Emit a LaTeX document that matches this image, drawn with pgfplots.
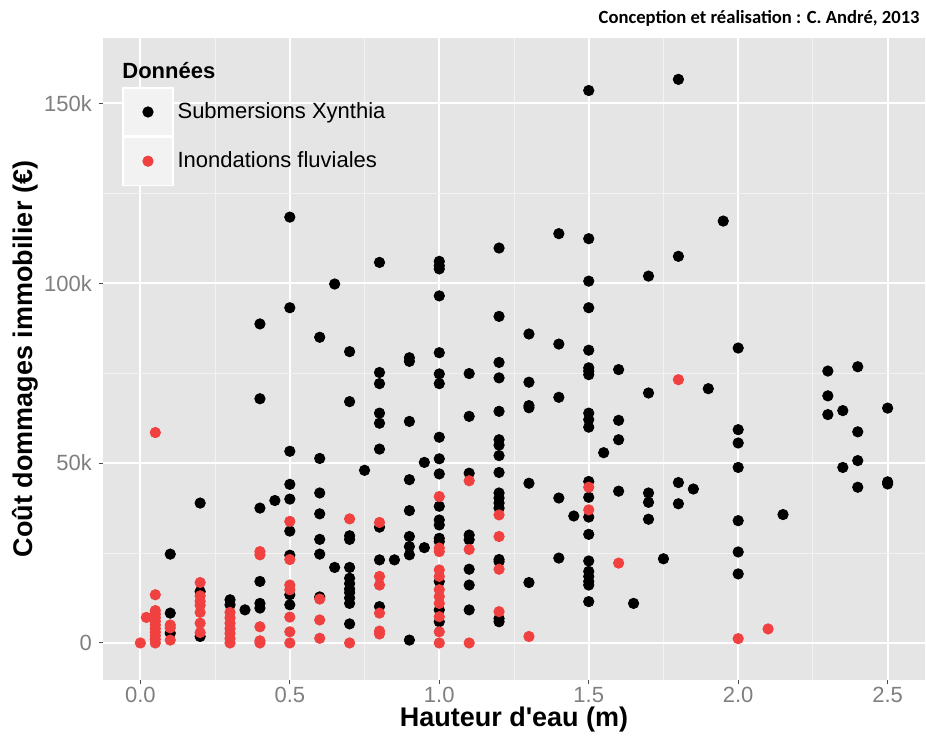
\documentclass[border=0pt]{standalone}
\usepackage{fontspec}
\setmainfont{Liberation Sans}
\newfontfamily\creditfont{Carlito}
\usepackage{pgfplots}
\pgfplotsset{compat=1.18}
\definecolor{panel}{HTML}{E5E5E5}
\definecolor{minorgrid}{HTML}{F2F2F2}
\definecolor{ticklab}{HTML}{7F7F7F}
\definecolor{keyfill}{HTML}{F2F2F2}
\definecolor{inond}{HTML}{F04040}

\begin{document}
\begin{tikzpicture}
\useasboundingbox (0,0) rectangle (463pt,367.5pt);
\begin{axis}[
  at={(51.5pt,27.5pt)}, anchor=south west,
  width=411pt, height=321pt, scale only axis,
  xmin=-0.125, xmax=2.625, ymin=-10.3, ymax=168.2,
  axis background/.style={fill=panel},
  axis line style={draw=none},
  tick pos=left, tick align=outside,
  major tick length=2pt, minor tick length=0pt,
  tick style={draw=black!70, line width=0.5pt},
  xtick={0,0.5,1,1.5,2,2.5},
  xticklabels={0.0,0.5,1.0,1.5,2.0,2.5},
  minor xtick={0.25,0.75,1.25,1.75,2.25},
  ytick={0,50,100,150},
  yticklabels={0,50k,100k,150k},
  minor ytick={25,75,125},
  grid=both,
  major grid style={white, line width=1pt},
  minor grid style={minorgrid, line width=0.5pt},
  ticklabel style={font=\fontsize{11}{13}\selectfont, text=ticklab},
  xticklabel style={inner sep=1.5pt},
  /pgf/number format/assume math mode=true,
  xlabel={Hauteur d\textquotesingle eau (m)},
  ylabel={Coût dommages immobilier (€)},
  every axis x label/.style={at={(axis description cs:0.5,-0.0623)}, anchor=center,
    font=\bfseries\fontsize{13.5}{16}\selectfont},
  every axis y label/.style={at={(axis description cs:-0.0949,0.5)}, anchor=center, rotate=90,
    font=\bfseries\fontsize{13.5}{16}\selectfont},
  legend cell align=left,
  legend style={at={(axis description cs:0.0231,0.9237)}, anchor=north west,
    draw=none, fill=none, inner sep=0pt, row sep=0pt,
    font=\fontsize{11}{13}\selectfont,
    /tikz/every odd column/.append style={column sep=0pt}},
  legend image code/.code={
    \draw[white, fill=keyfill, line width=0.6pt] (0pt,-12pt) rectangle (25pt,12pt);
    \draw[#1] plot coordinates {(12.5pt,0pt)};
  },
]
% Submersions Xynthia (cout en milliers d'euros)
\addplot[only marks, mark=*, mark size=2.6pt, black] coordinates {
(0.1,24.7) (0.1,8.3) (0.1,2.7)
(0.2,38.9) (0.2,14.3) (0.2,1.8)
(0.3,12.0) (0.3,10.6)
(0.35,9.2)
(0.4,88.7) (0.4,67.9) (0.4,37.5) (0.4,17.1) (0.4,11.0) (0.4,9.7)
(0.45,39.6)
(0.5,118.4) (0.5,93.2) (0.5,53.3) (0.5,44.1) (0.5,40.0) (0.5,31.1) (0.5,24.4) (0.5,13.4) (0.5,10.6)
(0.6,85.0) (0.6,51.3) (0.6,41.7) (0.6,35.9) (0.6,28.8) (0.6,24.7) (0.6,12.8)
(0.65,99.8) (0.65,21.0)
(0.7,81.0) (0.7,67.1) (0.7,29.8) (0.7,28.8) (0.7,21.0) (0.7,18.0) (0.7,16.5) (0.7,15.0) (0.7,14.0) (0.7,12.5) (0.7,11.0) (0.7,5.3)
(0.75,48.0)
(0.8,105.8) (0.8,75.2) (0.8,72.1) (0.8,63.9) (0.8,61.1) (0.8,53.9) (0.8,32.2) (0.8,23.1) (0.8,10.1)
(0.85,23.1)
(0.9,79.3) (0.9,78.3) (0.9,61.6) (0.9,45.4) (0.9,36.8) (0.9,29.6) (0.9,26.8) (0.9,24.5) (0.9,0.8)
(0.95,50.2) (0.95,26.5)
(1.0,106.1) (1.0,104.9) (1.0,104.0) (1.0,96.5) (1.0,80.7) (1.0,74.8) (1.0,72.1) (1.0,57.2) (1.0,51.2) (1.0,47.0)
(1.0,38.0) (1.0,34.2) (1.0,32.8) (1.0,29.1) (1.0,28.2) (1.0,17.1) (1.0,9.2) (1.0,5.9)
(1.1,74.9) (1.1,63.0) (1.1,47.2) (1.1,30.0) (1.1,28.7) (1.1,20.5) (1.1,16.1) (1.1,9.2)
(1.2,109.8) (1.2,90.8) (1.2,78.0) (1.2,73.7) (1.2,64.4) (1.2,56.5) (1.2,55.0) (1.2,52.1) (1.2,47.4)
(1.2,41.7) (1.2,40.3) (1.2,38.9) (1.2,37.5) (1.2,23.2) (1.2,22.6) (1.2,6.8) (1.2,5.9)
(1.3,85.9) (1.3,72.5) (1.3,66.0) (1.3,65.4) (1.3,44.4) (1.3,16.8)
(1.4,113.8) (1.4,83.1) (1.4,68.3) (1.4,40.3) (1.4,23.6)
(1.45,35.3)
(1.5,153.6) (1.5,112.4) (1.5,100.6) (1.5,93.2) (1.5,81.4) (1.5,76.5) (1.5,75.6) (1.5,74.6) (1.5,63.9) (1.5,62.1) (1.5,60.0)
(1.5,44.9) (1.5,40.5) (1.5,35.0) (1.5,30.2) (1.5,22.8) (1.5,19.9) (1.5,18.5) (1.5,17.1) (1.5,16.1) (1.5,11.5)
(1.55,52.9)
(1.6,76.0) (1.6,61.9) (1.6,56.5) (1.6,42.2)
(1.65,11.0)
(1.7,102.0) (1.7,69.5) (1.7,41.7) (1.7,39.1) (1.7,34.4)
(1.75,23.4)
(1.8,156.7) (1.8,107.5) (1.8,44.6) (1.8,38.7)
(1.85,42.8)
(1.9,70.7)
(1.95,117.3)
(2.0,82.0) (2.0,59.3) (2.0,55.6) (2.0,48.8) (2.0,34.0) (2.0,25.3) (2.0,19.2)
(2.15,35.7)
(2.3,75.6) (2.3,68.7) (2.3,63.5)
(2.35,64.6) (2.35,48.8)
(2.4,76.8) (2.4,58.7) (2.4,50.7) (2.4,43.3)
(2.5,65.3) (2.5,44.8) (2.5,44.2)
};
\addlegendentry{Submersions Xynthia}
% Inondations fluviales
\addplot[only marks, mark=*, mark size=2.6pt, inond] coordinates {
(0.0,0.0) (0.02,7.1)
(0.05,58.5) (0.05,13.4) (0.05,9.0) (0.05,8.0) (0.05,7.0) (0.05,6.0) (0.05,5.0) (0.05,4.0) (0.05,3.0) (0.05,2.0) (0.05,1.0) (0.05,0.0)
(0.1,5.0) (0.1,4.2) (0.1,0.8)
(0.2,16.8) (0.2,13.1) (0.2,11.6) (0.2,10.5) (0.2,8.5) (0.2,5.5) (0.2,2.9)
(0.3,8.5) (0.3,7.0) (0.3,5.5) (0.3,4.0) (0.3,2.7) (0.3,1.2) (0.3,0.0)
(0.4,25.4) (0.4,24.5) (0.4,4.5) (0.4,0.6) (0.4,0.0)
(0.5,33.8) (0.5,23.2) (0.5,16.1) (0.5,14.8) (0.5,7.2) (0.5,3.1) (0.5,0.0)
(0.6,12.2) (0.6,6.4) (0.6,1.3)
(0.7,34.5) (0.7,0.0)
(0.8,33.5) (0.8,18.5) (0.8,16.1) (0.8,8.3) (0.8,3.3) (0.8,2.5)
(1.0,40.7) (1.0,26.4) (1.0,25.4) (1.0,20.3) (1.0,18.5) (1.0,14.8) (1.0,12.9) (1.0,11.0) (1.0,7.3) (1.0,3.1) (1.0,0.0)
(1.1,45.1) (1.1,26.0) (1.1,0.0)
(1.2,35.6) (1.2,29.6) (1.2,20.5) (1.2,8.7)
(1.3,1.8)
(1.5,43.3) (1.5,37.0)
(1.6,22.2)
(1.8,73.2)
(2.0,1.2)
(2.1,3.9)
};
\addlegendentry{Inondations fluviales}
\node[anchor=west, font=\bfseries\fontsize{11}{13}\selectfont, inner sep=0pt]
  at (axis description cs:0.0231,0.950) {Données};
\end{axis}
\node[anchor=east, inner sep=0pt, font=\creditfont\bfseries\fontsize{9.3}{11}\selectfont]
  at (460pt,358.5pt) {Conception et réalisation : C. André, 2013};
\end{tikzpicture}
\end{document}
